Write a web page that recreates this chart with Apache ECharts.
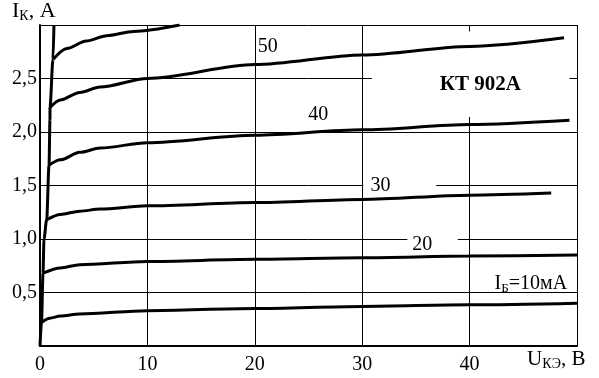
<!DOCTYPE html>
<html>
<head>
<meta charset="utf-8">
<script src="https://cdn.jsdelivr.net/npm/echarts@6/dist/echarts.min.js"></script>
<style>
html, body { margin: 0; padding: 0; background: #fff; }
#main { width: 599px; height: 378px; }
</style>
</head>
<body>
<div id="main"></div>
<script>
// tick labels
var xTickValues = [0, 10, 20, 30, 40];
var xTickLabels = ['0', '10', '20', '30', '40'];
var yTickValues = [0.5, 1.0, 1.5, 2.0, 2.5];
var yTickLabels = ['0,5', '1,0', '1,5', '2,0', '2,5'];

// steep rise at the start (saturation region)
var envelope = [[0, 0], [0.14, 0.22], [0.28, 0.68], [0.37, 1.0], [0.62, 1.18], [0.84, 1.69], [0.93, 2.12], [0.93, 2.23], [1.21, 2.68], [1.3, 3.0]];

// output curves, I_B in mA
var ib10 = [[0.14, 0.22], [0.9, 0.26], [1.9, 0.28], [3.7, 0.30], [10, 0.33], [20, 0.35], [30, 0.37], [40, 0.385], [50, 0.40]];
var ib20 = [[0.28, 0.68], [1.9, 0.73], [3.7, 0.76], [10, 0.79], [20, 0.81], [30, 0.825], [40, 0.84], [50, 0.85]];
var ib30 = [[0.62, 1.18], [1.9, 1.23], [3.7, 1.26], [5.6, 1.28], [10, 1.31], [20, 1.34], [30, 1.37], [40, 1.41], [47.6, 1.43]];
var ib40 = [[0.84, 1.69], [1.9, 1.74], [3.7, 1.81], [5.6, 1.85], [10, 1.90], [20, 1.97], [30, 2.02], [40, 2.07], [49.3, 2.11]];
var ib50 = [[0.93, 2.23], [1.9, 2.30], [3.7, 2.37], [5.6, 2.42], [10, 2.50], [20, 2.63], [30, 2.72], [40, 2.80], [48.8, 2.88]];
var ib60 = [[1.24, 2.68], [2.5, 2.78], [4.3, 2.85], [6.2, 2.90], [8.7, 2.94], [13.0, 3.0]];

var serif = 'Liberation Serif';

var dom = document.getElementById('main');
var myChart = echarts.init(dom, null, { renderer: 'canvas' });

function curve(data, label, at) {
  var s = {
    type: 'line',
    data: data,
    showSymbol: false,
    smooth: 0.3,
    smoothMonotone: 'x',
    lineStyle: { color: '#000', width: 3 },
    animation: false,
    silent: true
  };
  if (label) {
    s.markPoint = {
      symbol: 'circle',
      symbolSize: 0,
      silent: true,
      animation: false,
      data: [{ coord: at }],
      label: {
        show: true,
        position: 'inside',
        formatter: label,
        color: '#000',
        fontFamily: serif,
        fontSize: 20,
        rich: {
          a: { fontFamily: serif, fontSize: 20, color: '#000' },
          s: { fontFamily: serif, fontSize: 13, color: '#000', padding: [9, 0, 0, 0] }
        }
      }
    };
  }
  return s;
}

var option = {
  backgroundColor: '#fff',
  grid: { left: 40, top: 25, right: 22, bottom: 32 },
  xAxis: {
    type: 'value',
    min: 0,
    max: 50,
    interval: 10,
    axisLine: { show: true, onZero: false, lineStyle: { color: '#000', width: 2 } },
    axisTick: { show: false },
    splitLine: { show: true, lineStyle: { color: '#000', width: 1 } },
    axisLabel: {
      margin: 9,
      color: '#000',
      fontFamily: serif,
      fontSize: 20,
      formatter: function (v) {
        var i = xTickValues.indexOf(v);
        return i < 0 ? '' : xTickLabels[i];
      }
    }
  },
  yAxis: {
    type: 'value',
    min: 0,
    max: 3,
    interval: 0.5,
    axisLine: { show: true, onZero: false, lineStyle: { color: '#000', width: 2 } },
    axisTick: { show: false },
    splitLine: { show: true, lineStyle: { color: '#000', width: 1 } },
    axisLabel: {
      margin: 3,
      color: '#000',
      fontFamily: serif,
      fontSize: 20,
      formatter: function (v) {
        var i = yTickValues.indexOf(Math.round(v * 10) / 10);
        return i < 0 ? '' : yTickLabels[i];
      }
    }
  },
  graphic: [
    {
      type: 'text',
      left: 12,
      top: 0,
      style: {
        rich: {
          a: { fontFamily: serif, fontSize: 22, fill: '#000' },
          s: { fontFamily: serif, fontSize: 14, fill: '#000', padding: [10, 0, 0, 0] }
        },
        text: '{a|I}{s|К}{a|, A}'
      }
    },
    {
      type: 'text',
      left: 527,
      top: 349,
      style: {
        rich: {
          a: { fontFamily: serif, fontSize: 21, fill: '#000' },
          s: { fontFamily: serif, fontSize: 14, fill: '#000', padding: [9, 0, 0, 0] }
        },
        text: '{a|U}{s|КЭ}{a|, B}'
      }
    }
  ],
  series: [
    {
      type: 'line',
      data: [],
      silent: true,
      markArea: {
        silent: true,
        animation: false,
        label: { show: false },
        itemStyle: { color: '#fff' },
        data: [
          [{ coord: [30.9, 2.14] }, { coord: [49.3, 2.94] }],
          [{ coord: [30.1, 1.47] }, { coord: [36.9, 1.53] }],
          [{ coord: [34.2, 0.97] }, { coord: [38.9, 1.03] }]
        ]
      },
      markPoint: {
        symbol: 'circle',
        symbolSize: 0,
        silent: true,
        animation: false,
        data: [{ coord: [41.0, 2.44] }],
        label: {
          show: true,
          position: 'inside',
          formatter: 'КТ 902А',
          color: '#000',
          fontFamily: serif,
          fontWeight: 'bold',
          fontSize: 21
        }
      }
    },
    curve(envelope),
    curve(ib10, '{a|I}{s|Б}{a|=10мА}', [45.7, 0.58]),
    curve(ib20, '20', [35.6, 0.95]),
    curve(ib30, '30', [31.7, 1.50]),
    curve(ib40, '40', [25.9, 2.16]),
    curve(ib50, '50', [21.2, 2.80]),
    curve(ib60)
  ]
};

if (option && typeof option === 'object') {
  myChart.setOption(option);
}

window.addEventListener('resize', myChart.resize);
</script>
</body>
</html>
